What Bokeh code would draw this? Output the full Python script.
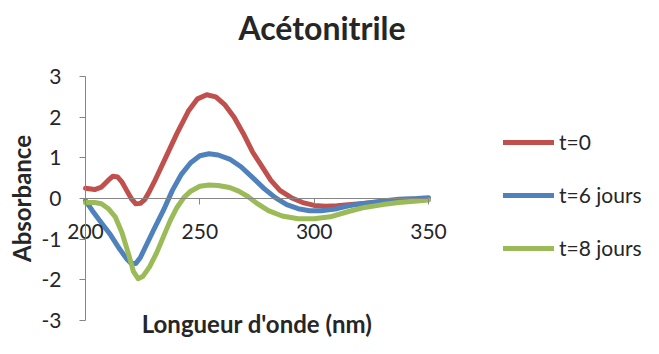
from bokeh.plotting import figure
from bokeh.models import Range1d, FixedTicker, Legend, LegendItem, Title, Label
from bokeh.embed import file_html
from bokeh.resources import INLINE

title_text = "Acétonitrile"
x_label = "Longueur d'onde (nm)"
y_label = "Absorbance"
series_names = ["t=0", "t=6 jours", "t=8 jours"]
x_ticks = [200, 250, 300, 350]
y_ticks = [-3, -2, -1, 0, 1, 2, 3]

wl_t0 = [200, 204, 207, 210, 212, 214, 216, 218, 220, 222, 224, 226, 228, 230, 235, 240, 245, 249,
         253, 257, 261, 265, 269, 273, 277, 281, 285, 290, 295, 300, 305, 310, 320, 330, 340, 350]
abs_t0 = [0.25, 0.22, 0.28, 0.45, 0.55, 0.53, 0.4, 0.2, 0.0, -0.13, -0.12, -0.02, 0.18, 0.4, 1.0, 1.6, 2.15, 2.45,
          2.55, 2.5, 2.3, 2.0, 1.6, 1.15, 0.8, 0.45, 0.2, 0.02, -0.1, -0.17, -0.19, -0.18, -0.13, -0.08, -0.03, 0.0]

wl_t6 = [200, 203, 207, 211, 215, 218, 220, 222, 224, 227, 230, 234, 238, 242, 246, 250, 254, 258, 263,
         268, 273, 278, 283, 288, 293, 298, 303, 310, 315, 322, 330, 337, 345, 350]
abs_t6 = [-0.05, -0.3, -0.6, -0.9, -1.25, -1.48, -1.6, -1.6, -1.45, -1.1, -0.75, -0.3, 0.2, 0.6, 0.88, 1.05, 1.1, 1.07, 0.97,
          0.78, 0.52, 0.25, 0.02, -0.15, -0.25, -0.3, -0.3, -0.25, -0.18, -0.12, -0.06, -0.02, 0.0, 0.02]

wl_t8 = [200, 204, 207, 210, 213, 216, 219, 221, 223, 225, 228, 231, 234, 237, 240, 243, 246, 250, 254, 258,
         263, 267, 271, 275, 280, 286, 293, 300, 307, 315, 322, 330, 337, 345, 350]
abs_t8 = [-0.1, -0.1, -0.13, -0.25, -0.45, -0.85, -1.4, -1.8, -1.97, -1.92, -1.68, -1.35, -0.95, -0.55, -0.22, 0.02, 0.18, 0.3, 0.33, 0.32,
          0.27, 0.18, 0.05, -0.12, -0.3, -0.43, -0.5, -0.5, -0.45, -0.32, -0.22, -0.15, -0.1, -0.06, -0.04]

colors = ["#C0504D", "#4F81BD", "#9BBB59"]
FONT = "Lato"
TXT = "#262626"
AX = "#868686"

W, H = 643, 338
TOP = 50
# pixel layout of the axes inside the canvas
X0_PX, X1_PX = 85.0, 428.0      # x=200 and x=350
Y3_PX, YM3_PX = 76.0, 320.0     # y=3 and y=-3
sx = (X1_PX - X0_PX) / 150.0
sy = (YM3_PX - Y3_PX) / 6.0
x_start = 200 - X0_PX / sx
x_end = 350 + (W - X1_PX) / sx
y_end = 3 + (Y3_PX - TOP) / sy
y_start = -3 - (H - YM3_PX) / sy

p = figure(width=W, height=H, output_backend="svg", toolbar_location=None,
           x_range=Range1d(x_start, x_end), y_range=Range1d(y_start, y_end),
           min_border_left=0, min_border_right=0, min_border_top=TOP, min_border_bottom=0)
p.outline_line_color = None
p.xgrid.visible = False
p.ygrid.visible = False
p.background_fill_color = "white"
p.border_fill_color = "white"

p.title = Title(text=title_text, align="center", offset=14, text_font=FONT,
                text_font_size="32px", text_font_style="bold", text_color=TXT, standoff=8)

renderers = []
for xs, ys, c in zip([wl_t0, wl_t6, wl_t8], [abs_t0, abs_t6, abs_t8], colors):
    r = p.line(xs, ys, line_color=c, line_width=5, line_cap="round", line_join="round")
    renderers.append(r)

xa = p.xaxis[0]
xa.fixed_location = 0
xa.bounds = (200, 350)
xa.ticker = FixedTicker(ticks=x_ticks)
xa.axis_line_color = AX
xa.major_tick_line_color = AX
xa.major_tick_out = 6
xa.major_tick_in = 0
xa.minor_tick_line_color = None
xa.major_label_standoff = 19
xa.major_label_text_font = FONT
xa.major_label_text_font_size = "21px"
xa.major_label_text_color = TXT

ya = p.yaxis[0]
ya.fixed_location = 200
ya.bounds = (-3, 3)
ya.ticker = FixedTicker(ticks=y_ticks)
ya.major_label_overrides = {t: str(t) for t in y_ticks}
ya.axis_line_color = AX
ya.major_tick_line_color = AX
ya.major_tick_out = 6
ya.major_tick_in = 0
ya.minor_tick_line_color = None
ya.major_label_standoff = 18
ya.major_label_text_font = FONT
ya.major_label_text_font_size = "21px"
ya.major_label_text_color = TXT
ya.axis_label = y_label
ya.axis_label_text_font = FONT
ya.axis_label_text_font_size = "24px"
ya.axis_label_text_font_style = "bold"
ya.axis_label_text_color = TXT
ya.axis_label_standoff = 3

xl = Label(x=275, y=y_start, y_offset=1, text=x_label, text_align="center", text_baseline="bottom",
           text_font=FONT, text_font_size="24px", text_font_style="bold", text_color=TXT)
p.add_layout(xl)

legend = Legend(items=[LegendItem(label=n, renderers=[r]) for n, r in zip(series_names, renderers)],
                location=(503, 78), margin=0, padding=0, spacing=28,
                glyph_width=51, glyph_height=20, label_height=20, label_standoff=5,
                label_text_font=FONT, label_text_font_size="21px", label_text_color=TXT,
                border_line_color=None, background_fill_alpha=0)
p.add_layout(legend, "center")

open("out.html", "w").write(file_html(p, INLINE))
